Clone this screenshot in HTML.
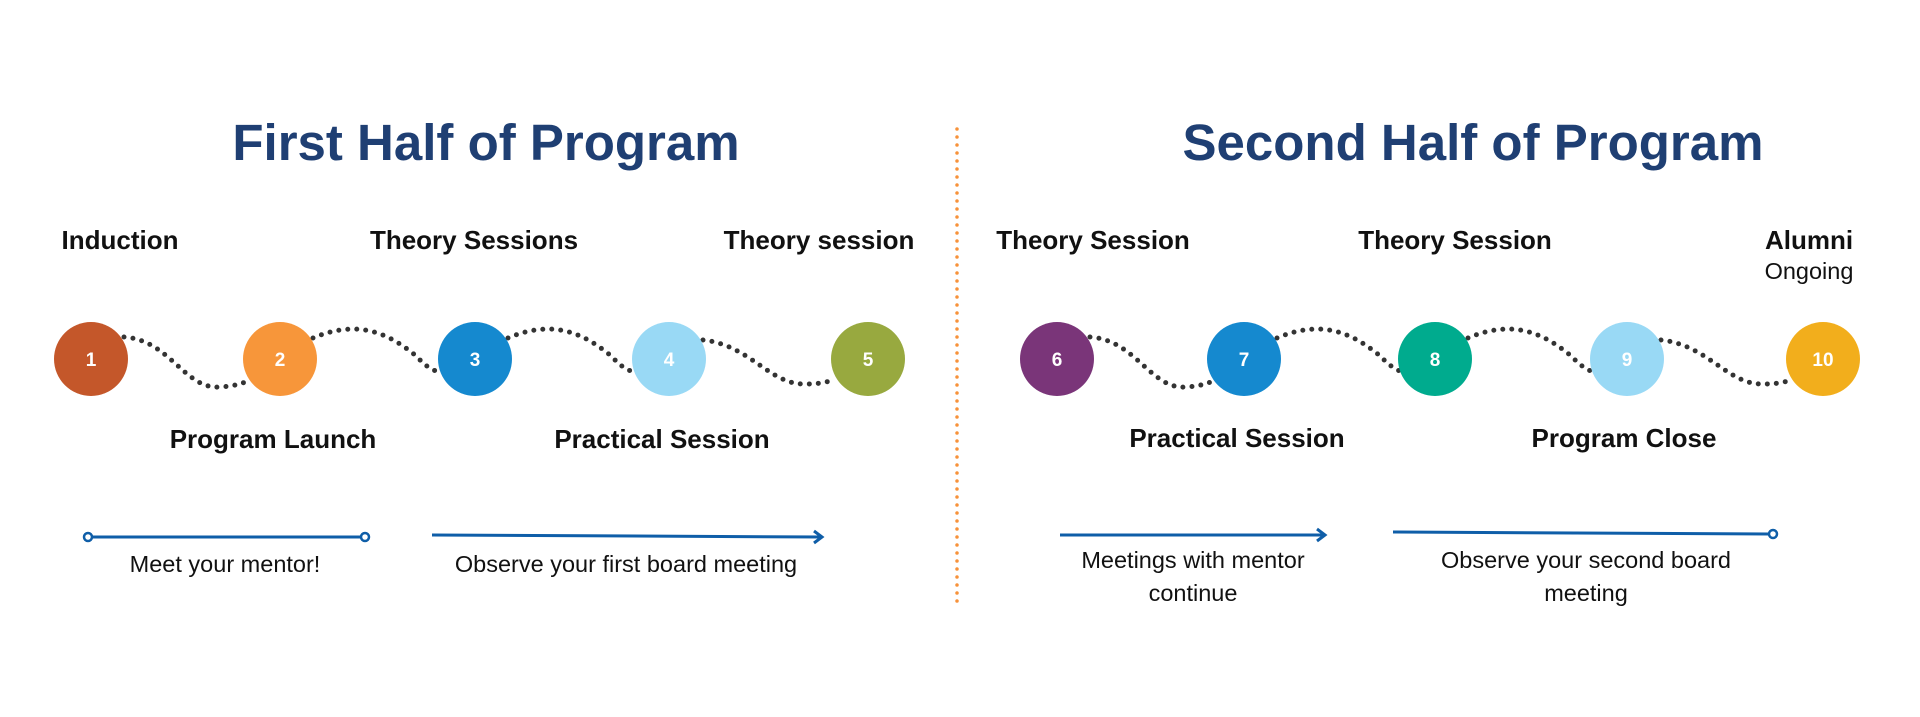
<!DOCTYPE html>
<html><head><meta charset="utf-8"><style>
html,body{margin:0;padding:0;background:#fff;}
svg{display:block;}
text{font-family:"Liberation Sans",sans-serif;}
.t{font-size:51px;font-weight:bold;fill:#1f3f73;}
.l{font-size:26px;font-weight:bold;fill:#111;}
.s{font-size:23.5px;fill:#111;}
.n{font-size:19px;font-weight:bold;fill:#fff;}
.dot{fill:none;stroke:#333;stroke-width:5;stroke-linecap:round;stroke-dasharray:0 9;}
.ln{stroke:#0f5ea8;stroke-width:3;fill:none;}
</style></head><body>
<svg width="1920" height="717" viewBox="0 0 1920 717">
<text class="t" x="486" y="160" text-anchor="middle">First Half of Program</text>
<text class="t" x="1473" y="160" text-anchor="middle">Second Half of Program</text>
<line x1="957" y1="129" x2="957" y2="604" stroke="#f7923a" stroke-width="3.5" stroke-linecap="round" stroke-dasharray="0 8"/>

<path class="dot" d="M124,337 C170,340 185,390 220,387 C235,386 240,384 248,381"/>
<path class="dot" d="M313,338 C360,318 390,335 415,355 C425,365 430,370 440,372"/>
<path class="dot" d="M508,338 C555,318 585,335 610,355 C620,365 625,370 635,372"/>
<path class="dot" d="M703,340 C750,345 770,385 805,384 C820,384 828,382 835,379"/>
<path class="dot" d="M1090,337 C1136,340 1151,390 1186,387 C1200,386 1206,384 1213,381"/>
<path class="dot" d="M1277,338 C1324,318 1354,335 1379,355 C1389,365 1395,370 1403,372"/>
<path class="dot" d="M1468,338 C1515,318 1545,335 1570,355 C1580,365 1586,370 1594,372"/>
<path class="dot" d="M1661,340 C1708,345 1728,385 1763,384 C1778,384 1786,382 1793,379"/>

<g>
<circle cx="91" cy="359" r="37" fill="#c4572a"/><text class="n" x="91" y="366" text-anchor="middle">1</text>
<circle cx="280" cy="359" r="37" fill="#f7963a"/><text class="n" x="280" y="366" text-anchor="middle">2</text>
<circle cx="475" cy="359" r="37" fill="#1589cf"/><text class="n" x="475" y="366" text-anchor="middle">3</text>
<circle cx="669" cy="359" r="37" fill="#99d9f5"/><text class="n" x="669" y="366" text-anchor="middle">4</text>
<circle cx="868" cy="359" r="37" fill="#98a93f"/><text class="n" x="868" y="366" text-anchor="middle">5</text>
<circle cx="1057" cy="359" r="37" fill="#7a3579"/><text class="n" x="1057" y="366" text-anchor="middle">6</text>
<circle cx="1244" cy="359" r="37" fill="#1589cf"/><text class="n" x="1244" y="366" text-anchor="middle">7</text>
<circle cx="1435" cy="359" r="37" fill="#00ab8e"/><text class="n" x="1435" y="366" text-anchor="middle">8</text>
<circle cx="1627" cy="359" r="37" fill="#99d9f5"/><text class="n" x="1627" y="366" text-anchor="middle">9</text>
<circle cx="1823" cy="359" r="37" fill="#f2ae1c"/><text class="n" x="1823" y="366" text-anchor="middle">10</text>
</g>

<text class="l" x="120" y="249" text-anchor="middle">Induction</text>
<text class="l" x="474" y="249" text-anchor="middle">Theory Sessions</text>
<text class="l" x="819" y="249" text-anchor="middle">Theory session</text>
<text class="l" x="1093" y="249" text-anchor="middle">Theory Session</text>
<text class="l" x="1455" y="249" text-anchor="middle">Theory Session</text>
<text class="l" x="1809" y="249" text-anchor="middle">Alumni</text>
<text class="s" x="1809" y="279" text-anchor="middle">Ongoing</text>

<text class="l" x="273" y="448" text-anchor="middle">Program Launch</text>
<text class="l" x="662" y="448" text-anchor="middle">Practical Session</text>
<text class="l" x="1237" y="447" text-anchor="middle">Practical Session</text>
<text class="l" x="1624" y="447" text-anchor="middle">Program Close</text>

<line class="ln" x1="90" y1="537" x2="362" y2="537"/>
<circle cx="88" cy="537" r="4" fill="#fff" stroke="#0f5ea8" stroke-width="2.5"/>
<circle cx="365" cy="537" r="4" fill="#fff" stroke="#0f5ea8" stroke-width="2.5"/>
<line class="ln" x1="432" y1="535" x2="822" y2="537"/>
<path class="ln" d="M814,531 L822,537 L814,543"/>
<line class="ln" x1="1060" y1="535" x2="1325" y2="535"/>
<path class="ln" d="M1317,529 L1325,535 L1317,541"/>
<line class="ln" x1="1393" y1="532" x2="1769" y2="534"/>
<circle cx="1773" cy="534" r="4" fill="#fff" stroke="#0f5ea8" stroke-width="2.5"/>

<text class="s" x="225" y="572" text-anchor="middle">Meet your mentor!</text>
<text class="s" x="626" y="572" text-anchor="middle">Observe your first board meeting</text>
<text class="s" x="1193" y="568" text-anchor="middle">Meetings with mentor</text>
<text class="s" x="1193" y="601" text-anchor="middle">continue</text>
<text class="s" x="1586" y="568" text-anchor="middle">Observe your second board</text>
<text class="s" x="1586" y="601" text-anchor="middle">meeting</text>
</svg>
</body></html>
